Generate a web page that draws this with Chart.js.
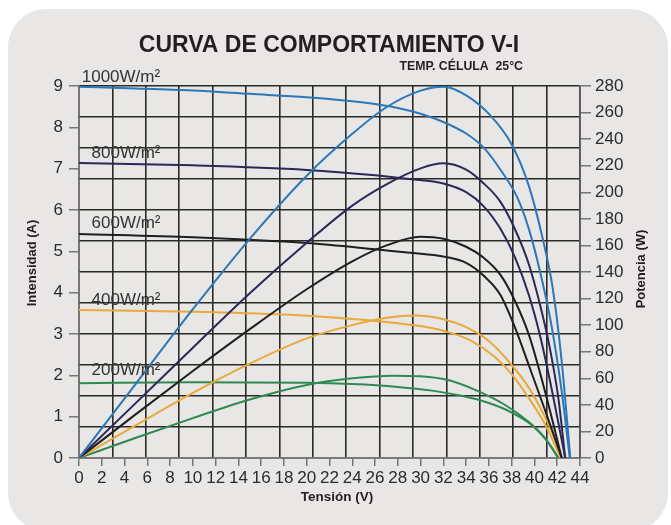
<!DOCTYPE html>
<html>
<head>
<meta charset="utf-8">
<script src="https://cdn.jsdelivr.net/npm/chart.js@4.4.1/dist/chart.umd.min.js"></script>
<style>
html, body { margin: 0; padding: 0; background: #fff; }
#wrap { position: relative; width: 671px; height: 525px; overflow: hidden; }
#card { position: absolute; left: 8px; top: 9px; width: 660px; height: 522px; background: #e8e7e6; border-radius: 38px; }
canvas { position: absolute; left: 0; top: 0; }
</style>
</head>
<body>
<div id="wrap">
  <div id="card"></div>
  <canvas id="chart" width="671" height="525"></canvas>
</div>
<script>
// ----- Data -----
// I-V curves (Tensión V -> Intensidad A)
const v1000 = [0, 5, 10, 15, 20, 25, 28, 30, 32, 34, 35.5, 37, 38.5, 39.5, 40.5, 41.5, 42.4, 43.1];
const i1000 = [8.98, 8.94, 8.89, 8.81, 8.73, 8.6, 8.47, 8.33, 8.13, 7.85, 7.52, 6.98, 6.3, 5.55, 4.5, 3.2, 1.6, 0];

const v800 = [0, 10, 20, 26, 29, 32, 34, 35.5, 37, 38.3, 39.5, 40.5, 41.6, 42.7];
const i800 = [7.14, 7.08, 6.97, 6.84, 6.75, 6.64, 6.43, 6.1, 5.55, 4.85, 3.95, 2.95, 1.55, 0];

const v600 = [0, 10, 20, 26, 30, 32.3, 34, 35.5, 37, 38.3, 39.5, 40.9, 42.4];
const i600 = [5.42, 5.34, 5.2, 5.05, 4.94, 4.86, 4.72, 4.42, 3.95, 3.15, 2.25, 1.18, 0];

const v400 = [0, 10, 18, 24, 28, 30.5, 32.5, 34.5, 36.5, 38, 39.5, 41, 42.3];
const i400 = [3.58, 3.54, 3.47, 3.36, 3.26, 3.17, 3.04, 2.83, 2.45, 2.03, 1.45, 0.78, 0];

const v200 = [0, 10, 20, 24, 28, 31, 33.5, 36, 38, 40, 41.2, 42.1];
const i200 = [1.81, 1.83, 1.82, 1.79, 1.72, 1.63, 1.51, 1.33, 1.1, 0.75, 0.38, 0];

// P-V curves (Tensión V -> Potencia W)
const vp1000 = [0, 5, 10, 15, 20, 24, 27, 30, 32, 34, 36, 38, 39.5, 40.7, 41.6, 42.4, 43.15];
const p1000 = [0, 56, 112, 165, 212.5, 244, 264, 276.5, 279.5, 273, 259, 236, 205, 166, 128, 72, 0];

const vp800 = [0, 5, 10, 15, 20, 24, 27, 30, 32, 34, 35.5, 37, 38.3, 39.5, 40.5, 41.3, 42.1, 42.7];
const p800 = [0, 41.5, 83, 124, 162, 190, 206, 218, 221.8, 217, 207, 193, 172, 146, 115, 85, 45, 0];

const vp600 = [0, 5, 10, 15, 20, 24, 27, 30, 32, 34, 35.5, 37, 38.3, 39.5, 40.9, 42.4];
const p600 = [0, 33, 65.5, 97, 127, 148, 160, 166.5, 165, 159, 151, 138, 118, 93, 51, 0];

const vp400 = [0, 5, 10, 15, 20, 24, 27, 29.5, 32, 34, 36, 38, 39.5, 40.8, 41.7, 42.3];
const p400 = [0, 24.7, 49, 71, 90, 100, 105.5, 107.2, 104.5, 98.5, 88, 70, 53, 33, 16, 0];

const vp200 = [0, 5, 10, 15, 20, 24, 27.5, 30, 32.5, 35, 37.5, 39.5, 41, 42.1];
const p200 = [0, 15.2, 30, 44, 55, 60, 62, 61.5, 58.5, 50.5, 39.5, 27, 14, 0];

const irradiances = ['1000W/m²', '800W/m²', '600W/m²', '400W/m²', '200W/m²'];
const colors = ['#2b77b8', '#2d2758', '#1f1f1f', '#e9a93b', '#2f8a52'];

const FONT = '"Liberation Sans", Arial, Helvetica, sans-serif';

function pts(xs, ys) {
    return xs.map((x, i) => ({ x: x, y: ys[i] }));
}

const ivSets = [[v1000, i1000], [v800, i800], [v600, i600], [v400, i400], [v200, i200]];
const pvSets = [[vp1000, p1000], [vp800, p800], [vp600, p600], [vp400, p400], [vp200, p200]];

const datasets = [];
irradiances.forEach((name, k) => {
    datasets.push({
        label: name + ' I',
        data: pts(ivSets[k][0], ivSets[k][1]),
        borderColor: colors[k],
        yAxisID: 'y'
    });
    datasets.push({
        label: name + ' P',
        data: pts(pvSets[k][0], pvSets[k][1]),
        borderColor: colors[k],
        yAxisID: 'y2'
    });
});

// label anchors in data units (V, A)
const labelV = [0.24, 1.1, 1.1, 1.1, 1.1];
const labelI = [9.1, 7.27, 5.56, 3.70, 2.01];

// Grid of the reference: 15 columns over 0-44 V, 12 rows over 0-9 A
const gridCols = Array.from({ length: 16 }, (_, i) => i * 44 / 15);
const gridRows = Array.from({ length: 13 }, (_, i) => i * 0.75);

const textPlugin = {
    id: 'texts',
    afterDraw(chart) {
        const ctx = chart.ctx;
        const sx = chart.scales.x, sy = chart.scales.y;
        ctx.save();
        ctx.fillStyle = '#231f20';
        ctx.textBaseline = 'alphabetic';

        ctx.font = 'bold 23px ' + FONT;
        ctx.textAlign = 'center';
        ctx.fillText('CURVA DE COMPORTAMIENTO V-I', 329, 52);

        ctx.font = 'bold 12.3px ' + FONT;
        ctx.textAlign = 'right';
        ctx.fillText('TEMP. CÉLULA  25°C', 523, 70);

        ctx.font = '17px ' + FONT;
        ctx.textAlign = 'left';
        ctx.fillStyle = '#333';
        irradiances.forEach((t, i) => {
            ctx.fillText(t, sx.getPixelForValue(labelV[i]), sy.getPixelForValue(labelI[i]));
        });

        ctx.fillStyle = '#231f20';
        ctx.textAlign = 'center';
        ctx.textBaseline = 'middle';
        ctx.font = 'bold 13.5px ' + FONT;
        ctx.fillText('Tensión (V)', 337, 497);

        ctx.font = 'bold 13px ' + FONT;
        ctx.save();
        ctx.translate(32, 263);
        ctx.rotate(-Math.PI / 2);
        ctx.fillText('Intensidad (A)', 0, 0);
        ctx.restore();

        ctx.save();
        ctx.translate(641, 269);
        ctx.rotate(-Math.PI / 2);
        ctx.fillText('Potencia (W)', 0, 0);
        ctx.restore();

        ctx.restore();
    }
};

const tickFont = { family: FONT, size: 17 };

new Chart(document.getElementById('chart'), {
    type: 'line',
    data: { datasets: datasets },
    options: {
        responsive: false,
        animation: false,
        devicePixelRatio: 1,
        layout: { padding: { top: 86, left: 0, right: 0, bottom: 0 } },
        elements: {
            point: { radius: 0 },
            line: { borderWidth: 2, cubicInterpolationMode: 'monotone', fill: false }
        },
        plugins: {
            legend: { display: false },
            tooltip: { enabled: false },
            title: { display: false }
        },
        scales: {
            x: {
                type: 'linear', position: 'bottom', min: 0, max: 44,
                ticks: { stepSize: 2, autoSkip: false, maxRotation: 0, color: '#2b2b2b', font: tickFont, padding: 2 },
                grid: { drawOnChartArea: false, drawTicks: true, tickLength: 8, color: '#777', lineWidth: 1.5 },
                border: { color: '#777', width: 1.5 },
                afterFit: s => { s.height = 67; }
            },
            y: {
                type: 'linear', position: 'left', min: 0, max: 9,
                ticks: { stepSize: 1, color: '#2b2b2b', font: tickFont, padding: 6 },
                grid: { drawOnChartArea: false, drawTicks: true, tickLength: 10, color: '#777', lineWidth: 1.5 },
                border: { color: '#777', width: 1.5 },
                afterFit: s => { s.width = 79; }
            },
            y2: {
                type: 'linear', position: 'right', min: 0, max: 280,
                ticks: { stepSize: 20, color: '#2b2b2b', font: tickFont, padding: 4 },
                grid: { drawOnChartArea: false, drawTicks: true, tickLength: 11, color: '#777', lineWidth: 1.5 },
                border: { color: '#555', width: 1.5 },
                afterFit: s => { s.width = 91; }
            },
            gx: {
                type: 'linear', position: 'bottom', min: 0, max: 44,
                afterBuildTicks: s => { s.ticks = gridCols.map(v => ({ value: v })); },
                ticks: { display: false },
                grid: { color: '#2a2a25', lineWidth: 1.6, drawTicks: false },
                border: { display: false }
            },
            gy: {
                type: 'linear', position: 'left', min: 0, max: 9,
                afterBuildTicks: s => { s.ticks = gridRows.map(v => ({ value: v })); },
                ticks: { display: false },
                grid: { color: '#2a2a25', lineWidth: 1.6, drawTicks: false },
                border: { display: false }
            }
        }
    },
    plugins: [textPlugin]
});
</script>
</body>
</html>
